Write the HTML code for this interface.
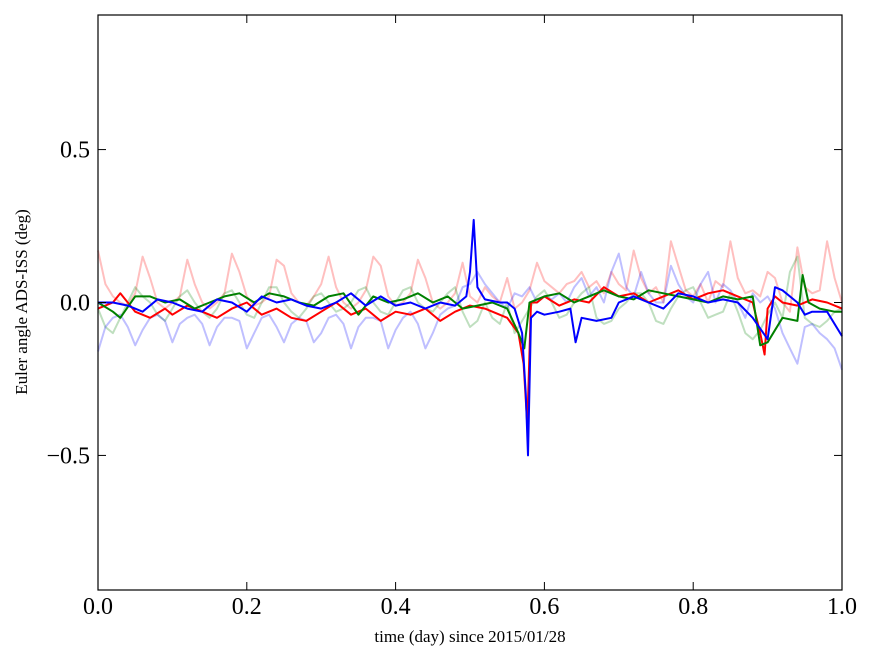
<!DOCTYPE html>
<html><head><meta charset="utf-8"><style>body{margin:0;background:#fff}svg{display:block}text{font-family:"Liberation Serif",serif}</style></head>
<body>
<svg id="chart" width="875" height="662" xmlns="http://www.w3.org/2000/svg">
<g id="lines"></g>
<rect x="98" y="15" width="744" height="575" fill="none" stroke="#000" stroke-width="1.2"/>
<g id="ticks"></g>
<text x="470" y="642" font-size="17" text-anchor="middle">time (day) since 2015/01/28</text>
<text transform="translate(27,302) rotate(-90)" font-size="17" text-anchor="middle">Euler angle ADS-ISS (deg)</text>
</svg>
<script>
const faintT=[];for(let i=0;i<=100;i++)faintT.push(i/100);
const pinkV=[0.17,0.06,0.02,0.0,-0.01,0.03,0.15,0.08,0.0,-0.02,0.0,0.02,0.14,0.06,0.0,-0.02,0.0,0.03,0.16,0.1,0.02,-0.01,0.0,0.02,0.14,0.12,0.03,0.0,-0.01,0.02,0.06,0.15,0.05,0.0,-0.02,0.0,0.04,0.15,0.12,0.02,-0.01,0.0,0.03,0.14,0.08,0.0,-0.02,0.0,0.03,0.13,0.02,0.0,0.05,0.02,0.0,0.08,-0.02,0.0,0.04,0.13,0.07,0.05,0.03,0.06,0.07,0.1,0.05,0.07,0.03,0.1,0.06,0.04,0.17,0.08,0.03,0.05,0.0,0.2,0.12,0.04,0.02,0.06,0.0,0.07,0.05,0.2,0.08,0.03,0.04,0.02,0.1,0.08,0.0,-0.03,0.18,0.05,0.03,0.04,0.2,0.08,0.0];
const lightBlueV=[-0.16,-0.08,-0.05,-0.04,-0.08,-0.14,-0.09,-0.05,-0.04,-0.06,-0.13,-0.07,-0.05,-0.04,-0.07,-0.14,-0.08,-0.05,-0.05,-0.06,-0.15,-0.1,-0.05,-0.04,-0.08,-0.13,-0.07,-0.05,-0.06,-0.13,-0.1,-0.05,-0.04,-0.07,-0.15,-0.08,-0.05,-0.05,-0.06,-0.15,-0.09,-0.05,-0.03,-0.07,-0.15,-0.1,-0.04,-0.02,-0.01,0.05,0.06,0.1,0.06,0.03,0.0,-0.02,0.03,0.02,0.05,0.0,0.02,0.01,0.03,0.0,0.05,0.08,0.02,0.05,0.0,0.1,0.16,0.05,0.02,0.1,0.03,0.0,0.0,0.12,0.06,0.02,0.0,0.06,0.1,0.0,0.06,0.04,0.0,-0.05,0.03,0.0,0.02,-0.02,-0.1,-0.15,-0.2,-0.08,-0.07,-0.1,-0.12,-0.15,-0.22];
const lightGreenV=[-0.02,-0.08,-0.1,-0.05,0.0,0.05,0.02,0.0,-0.04,-0.06,-0.02,0.02,0.04,0.0,-0.03,-0.05,-0.02,0.03,0.04,0.0,-0.04,-0.05,0.0,0.05,0.05,0.0,-0.03,-0.05,-0.02,0.02,0.03,0.0,-0.03,-0.02,0.0,0.04,0.05,0.0,-0.03,-0.04,0.0,0.04,0.05,0.0,-0.02,-0.03,0.0,0.03,0.05,-0.03,-0.08,-0.06,0.0,-0.05,-0.07,0.0,-0.1,-0.06,-0.02,0.02,0.04,0.0,-0.05,-0.04,0.0,0.03,0.05,-0.05,-0.07,-0.06,-0.02,0.0,0.03,0.03,0.0,-0.06,-0.07,-0.02,0.02,0.04,0.05,0.0,-0.05,-0.04,-0.03,0.03,-0.03,-0.1,-0.12,-0.09,-0.04,0.0,-0.05,0.1,0.15,-0.05,-0.07,-0.08,-0.06,-0.03,-0.02];
const redT=[0,0.02,0.03,0.05,0.07,0.09,0.1,0.12,0.14,0.16,0.18,0.2,0.22,0.24,0.26,0.28,0.3,0.32,0.34,0.36,0.38,0.4,0.42,0.44,0.46,0.48,0.5,0.52,0.55,0.565,0.572,0.577,0.582,0.59,0.6,0.62,0.64,0.66,0.68,0.7,0.72,0.74,0.76,0.78,0.8,0.82,0.84,0.86,0.88,0.89,0.896,0.9,0.91,0.92,0.94,0.96,0.98,1.0];
const redV=[-0.02,0.0,0.03,-0.03,-0.05,-0.02,-0.04,-0.01,-0.03,-0.05,-0.02,0.0,-0.04,-0.02,-0.05,-0.06,-0.03,0.0,-0.04,-0.02,-0.06,-0.03,-0.04,-0.02,-0.06,-0.03,-0.01,-0.02,-0.05,-0.1,-0.2,-0.4,0.0,0.0,0.02,-0.01,0.01,0.0,0.05,0.02,0.03,0.0,0.02,0.04,0.01,0.03,0.04,0.02,0.0,-0.1,-0.17,-0.02,0.02,0.0,-0.01,0.01,0.0,-0.02];
const greenT=[0,0.02,0.03,0.05,0.07,0.09,0.11,0.13,0.15,0.17,0.19,0.21,0.23,0.25,0.27,0.29,0.31,0.33,0.35,0.37,0.39,0.41,0.43,0.45,0.47,0.49,0.51,0.53,0.55,0.565,0.573,0.58,0.6,0.62,0.64,0.66,0.68,0.7,0.72,0.74,0.76,0.78,0.8,0.82,0.84,0.86,0.88,0.89,0.9,0.92,0.94,0.947,0.955,0.97,0.99,1.0];
const greenV=[0.0,-0.03,-0.05,0.02,0.02,0.0,0.01,-0.02,0.0,0.02,0.03,0.0,0.03,0.02,0.0,-0.01,0.02,0.03,-0.04,0.02,0.0,0.01,0.03,0.0,0.02,-0.02,-0.01,0.0,-0.02,-0.1,-0.15,0.0,0.02,0.03,0.0,0.02,0.04,0.02,0.01,0.04,0.03,0.02,0.01,0.0,0.02,0.01,0.02,-0.14,-0.13,-0.05,-0.06,0.09,0.0,-0.02,-0.03,-0.03];
const blueT=[0,0.02,0.04,0.06,0.08,0.1,0.12,0.14,0.16,0.18,0.2,0.22,0.24,0.26,0.28,0.3,0.32,0.34,0.36,0.38,0.4,0.42,0.44,0.46,0.48,0.495,0.5,0.505,0.51,0.52,0.54,0.55,0.56,0.57,0.575,0.578,0.582,0.59,0.6,0.62,0.635,0.642,0.65,0.67,0.69,0.7,0.72,0.74,0.76,0.78,0.8,0.82,0.84,0.86,0.88,0.9,0.91,0.92,0.94,0.95,0.96,0.98,1.0];
const blueV=[0.0,0.0,-0.01,-0.03,0.01,0.0,-0.02,-0.03,0.01,0.0,-0.03,0.02,0.0,0.01,-0.01,-0.02,0.0,0.03,-0.01,0.02,-0.01,0.0,-0.02,0.0,-0.01,0.02,0.1,0.27,0.05,0.01,0.0,0.0,-0.02,-0.1,-0.3,-0.5,-0.05,-0.03,-0.04,-0.03,-0.02,-0.13,-0.05,-0.06,-0.05,0.0,0.02,0.0,-0.02,0.03,0.02,0.0,0.01,0.0,-0.05,-0.12,0.05,0.04,0.0,-0.04,-0.03,-0.03,-0.11];
const xTicks=[0,0.2,0.4,0.6,0.8,1.0];
const xTickLabels=["0.0","0.2","0.4","0.6","0.8","1.0"];
const yTicks=[-0.5,0,0.5];
const yTickLabels=["\u22120.5","0.0","0.5"];
const X0=98,X1=842,Y0=15,Y1=590,YMIN=-0.94,YMAX=0.94;
const sx=t=>X0+t*(X1-X0);
const sy=v=>Y1-(v-YMIN)/(YMAX-YMIN)*(Y1-Y0);
const NS="http://www.w3.org/2000/svg";
const g=document.getElementById('lines');
function line(ts,vs,color,op,name){
  const p=document.createElementNS(NS,'polyline');
  p.setAttribute('points',ts.map((t,i)=>sx(t).toFixed(1)+','+sy(vs[i]).toFixed(1)).join(' '));
  p.setAttribute('fill','none');p.setAttribute('stroke',color);p.setAttribute('stroke-opacity',op);
  p.setAttribute('stroke-width','2');p.setAttribute('stroke-linejoin','round');
  
  
  g.appendChild(p);
}
line(faintT,pinkV,'#f00',0.25,'series-red-faint');
line(faintT,lightGreenV,'#008000',0.25,'series-green-faint');
line(faintT,lightBlueV,'#00f',0.25,'series-blue-faint');
line(redT,redV,'#f00',1,'series-red');
line(greenT,greenV,'#008000',1,'series-green');
line(blueT,blueV,'#00f',1,'series-blue');
const tk=document.getElementById('ticks');
function el(tag,attrs,txt){const e=document.createElementNS(NS,tag);for(const k in attrs)e.setAttribute(k,attrs[k]);if(txt)e.textContent=txt;tk.appendChild(e);return e;}
xTicks.forEach((t,i)=>{
  const x=sx(t);
  const a=el('line',{x1:x,x2:x,y1:Y1,y2:Y1-8,stroke:'#000'});
  
  
  const b=el('line',{x1:x,x2:x,y1:Y0,y2:Y0+8,stroke:'#000'});
  
  
  const l=el('text',{x:x,y:614,'font-size':24,'text-anchor':'middle'},xTickLabels[i]);
  
  
});
yTicks.forEach((v,i)=>{
  const y=sy(v);
  const a=el('line',{x1:X0,x2:X0+8,y1:y,y2:y,stroke:'#000'});
  
  
  const b=el('line',{x1:X1,x2:X1-8,y1:y,y2:y,stroke:'#000'});
  
  
  const l=el('text',{x:90,y:y+8,'font-size':24,'text-anchor':'end'},yTickLabels[i]);
  
  
});
</script>
</body></html>
